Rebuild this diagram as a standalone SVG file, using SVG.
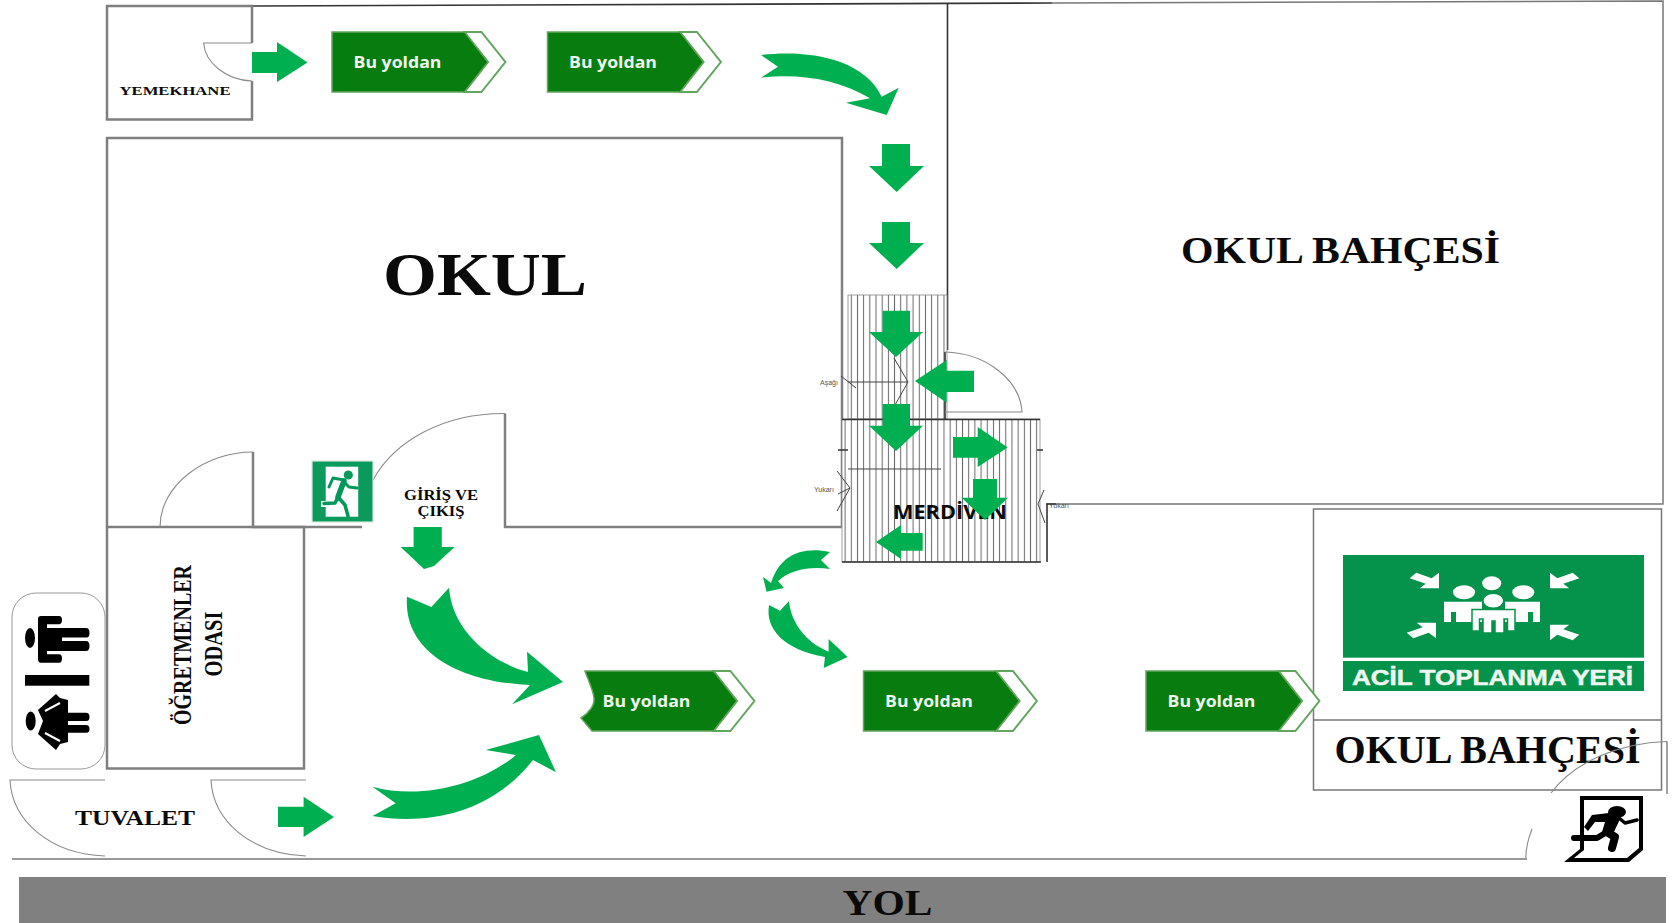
<svg xmlns="http://www.w3.org/2000/svg" xmlns:xlink="http://www.w3.org/1999/xlink" width="1672" height="923" viewBox="0 0 1672 923">
<style>
.wall{fill:none;stroke:#7f7f7f;stroke-width:2.5}
.thin{fill:none;stroke:#777;stroke-width:1.5}
.dark{fill:none;stroke:#333;stroke-width:1.6}
.door{fill:none;stroke:#8a8a8a;stroke-width:1.1}
.stair{fill:url(#steps);stroke:#888;stroke-width:.8}
.ln{fill:none;stroke:#444;stroke-width:1}
.ar{fill:#00b050}
.body{fill:#067d0e;stroke:#63a55e;stroke-width:1.5}
.chev{fill:#fff;stroke:#63a55e;stroke-width:2}
.st{font-family:"Liberation Serif","Times New Roman",serif;font-weight:bold;fill:#0a0a0a}
.sg{font-family:"Open Sans","Liberation Sans",sans-serif;font-weight:700;font-size:16.5px;fill:#f0f6ec}
.tiny{font-family:"Liberation Sans",Arial,sans-serif;font-size:7px;fill:#555}
.w{fill:#fff}
.k{fill:#000}
.rg{fill:none;stroke:#00985a;stroke-linejoin:round;stroke-linecap:round}
.rk{fill:none;stroke:#000;stroke-linejoin:round;stroke-linecap:round}
</style>
<defs>
<pattern id="steps" patternUnits="userSpaceOnUse" x="842" y="0" width="6.18" height="20"><rect width="6.18" height="20" fill="#fff"/><line x1="3.1" y1="0" x2="3.1" y2="20" stroke="#666" stroke-width="1"/></pattern>
<polygon id="corner" class="w" points="30,17.3 10.7,17.3 16.7,12.7 .7,7.3 7.3,1.7 22.7,7.3 30,1.7"/>
<g id="signshape"><polygon class="chev" points="132.5,0 149.4,0 173.4,30 149.4,60 132.5,60 156,30"/><polygon class="body" points="0,0 132.5,0 156,30 132.5,60 0,60"/></g>
</defs>
<rect width="1672" height="923" fill="#fff"/>

<g id="okul-bahcesi-top">
<path class="dark" d="M252,6 L1052,3"/>
<path class="thin" d="M1052,3 L1663,1 V504 H1046"/>
<path class="dark" d="M947.5,3 V350"/>
<text class="st" x="1181" y="263" font-size="38" textLength="319" lengthAdjust="spacingAndGlyphs">OKUL BAHÇESİ</text>
</g>

<g id="yemekhane">
<path class="wall" d="M252,43 V6 H107 V119.5 H252 V81"/>
<path class="door" d="M252,43 H203.6 C205,62 225,80 252,81"/>
<text class="st" x="119.5" y="95" font-size="13.5" textLength="111" lengthAdjust="spacingAndGlyphs">YEMEKHANE</text>
</g>

<g id="okul">
<path class="wall" d="M362,527 H253 V452 M107,526 V138 H842 V527 H505 V413.5"/>
<path class="door" d="M160,527 C160,485 205,452 253,452 M373,480 C395,440 445,413 505,413.5"/>
<path class="thin" d="M107,527 H160"/>
<text class="st" x="383" y="295" font-size="62" textLength="204" lengthAdjust="spacingAndGlyphs">OKUL</text>
<text class="st" x="441" y="500" font-size="15" text-anchor="middle" textLength="74" lengthAdjust="spacingAndGlyphs">GİRİŞ VE</text>
<text class="st" x="441" y="516" font-size="15" text-anchor="middle" textLength="47" lengthAdjust="spacingAndGlyphs">ÇIKIŞ</text>
</g>

<g id="merdiven">
<rect class="stair" x="848" y="295" width="99" height="124"/>
<rect class="stair" x="842" y="419" width="198" height="143"/>
<path class="ln" d="M848,469 H941"/>
<path class="dark" d="M842,419.5 H1040 M842,562 H1041 M1047,562 V504 H1056 M838,450 H848 M1037,450 H1043 M945,352 V419"/>
<path class="door" d="M945,352 C985,353 1020,379 1022,412 H945"/>
<path class="ln" d="M841,376 L856,388 M848,382 H908 M894,358 L908,382 L895,405 M837,471 L850,488 L837,511 M838,494 L850,488 M1044,490 L1038,504 L1045,523"/>
<text class="tiny" x="820" y="385">Aşağı</text>
<text class="tiny" x="814" y="492">Yukarı</text>
<text class="tiny" x="1049" y="508">Yukarı</text>
<text x="893" y="518.5" font-family="'Open Sans','Liberation Sans',sans-serif" font-weight="700" font-size="19" fill="#0a0a0a" textLength="114" lengthAdjust="spacingAndGlyphs">MERDİVEN</text>
</g>

<g id="exit-sign">
<rect x="312" y="461" width="61" height="61" fill="#0a9a5c" stroke="#d8e8dc" stroke-width="1.2"/>
<rect class="w" x="325.7" y="466.7" width="32.5" height="50"/>
<rect class="w" x="321" y="501" width="7" height="6"/>
<circle cx="348.3" cy="475" r="4.6" fill="#0a9a5c"/>
<path class="rg" stroke-width="5.5" d="M344,481 L338,497"/>
<path class="rg" stroke-width="3" d="M344,480 L333,478 L329,487 M344,482 L349,487 L357,488"/>
<path class="rg" stroke-width="3.5" d="M338,497 L345,505 L348,516 M338,497 L335,503 L324,503.5"/>
</g>

<g id="ogretmenler-odasi">
<rect class="wall" x="107" y="527" width="197" height="241.5"/>
<text class="st" transform="translate(191,645) rotate(-90)" font-size="25" text-anchor="middle" textLength="160" lengthAdjust="spacingAndGlyphs">ÖĞRETMENLER</text>
<text class="st" transform="translate(221.5,644) rotate(-90)" font-size="25" text-anchor="middle" textLength="65" lengthAdjust="spacingAndGlyphs">ODASI</text>
</g>

<g id="wc-icon">
<rect x="12" y="593" width="93" height="176" rx="24" fill="#fff" stroke="#999" stroke-width="1"/>
<ellipse class="k" cx="30" cy="638" rx="5" ry="10"/>
<path class="k" d="M41,616 H59 Q62,616 62,620 T59,624.3 H47 V628 H86 Q89.5,628 89.5,633 T86,637.5 H62 V641 H86 Q89.5,641 89.5,646 T86,651 H47 V654.3 H59 Q62,654.3 62,658.5 T59,662.7 H41 Q38,662.7 38,659 V619 Q38,616 41,616 Z"/>
<rect class="k" x="25" y="675" width="64.3" height="10.7"/>
<ellipse class="k" cx="30.7" cy="721" rx="5" ry="9.5"/>
<path class="k" d="M38,710 L56,694 L60,698 L68,700 V712.7 H86 Q89.5,712.7 89.5,717 T86,721 H68 V725 H86 Q89.5,725 89.5,729 T86,732.7 H68 V742 L60,744 L56,750 L38,734 L43,721 Z"/>
<path stroke="#fff" stroke-width="2" fill="none" d="M45,711 L60,703 M45,733 L60,741"/>
</g>

<g id="tuvalet">
<path class="door" stroke="#555" d="M105,780 H10 C12,821 50,854 105,856 M306,780 H211 C213,821 251,854 306,856"/>
<text class="st" x="75" y="825" font-size="22" textLength="120" lengthAdjust="spacingAndGlyphs">TUVALET</text>
</g>

<g id="toplanma-yeri">
<rect class="thin" x="1313.5" y="509" width="348" height="281"/>
<path class="thin" d="M1313.5,720 H1661.5"/>
<rect x="1343" y="555" width="301" height="102.7" fill="#05924a"/>
<rect x="1343" y="661" width="301" height="30" fill="#05924a"/>
<use xlink:href="#corner" href="#corner" transform="translate(1409,571)"/>
<use xlink:href="#corner" href="#corner" transform="translate(1580,571) scale(-1,1)"/>
<use xlink:href="#corner" href="#corner" transform="translate(1406,640) scale(1,-1)"/>
<use xlink:href="#corner" href="#corner" transform="translate(1580,642) scale(-1,-1)"/>
<ellipse class="w" cx="1491.7" cy="583.3" rx="9.5" ry="7"/>
<ellipse class="w" cx="1464" cy="592.3" rx="11" ry="7"/>
<ellipse class="w" cx="1523.3" cy="592.3" rx="11" ry="7"/>
<path class="w" d="M1444,601.7 H1482 V622 H1456 V612 H1451 V622 H1444 Z"/>
<path class="w" d="M1505,601.7 H1540 V622 H1533 V612 H1528 V622 H1505 Z"/>
<ellipse class="w" cx="1493.3" cy="600.7" rx="10.5" ry="7.5" stroke="#05924a" stroke-width="1.5"/>
<path class="w" stroke="#05924a" stroke-width="1.5" d="M1472,609.5 H1515 V631 H1507.5 V619 H1504 V633 H1495 V621 H1492 V633 H1483 V619 H1479.5 V631 H1472 Z"/>
<text x="1352" y="684.5" font-family="'Liberation Sans',Arial,sans-serif" font-weight="700" font-size="21.5" fill="#eef7ef" stroke="#eef7ef" stroke-width=".5" textLength="281" lengthAdjust="spacingAndGlyphs">ACİL TOPLANMA YERİ</text>
<text class="st" x="1334.5" y="763" font-size="41" textLength="306" lengthAdjust="spacingAndGlyphs">OKUL BAHÇESİ</text>
</g>

<g id="cikis-kapisi">
<path class="door" d="M1551,793 C1575,761 1620,743 1667,741.5"/>
<path class="ln" stroke="#666" d="M1667,741.5 V794"/>
<path class="door" d="M1532,829 C1528,839 1526,849 1525.8,858"/>
<g transform="translate(2,0)">
<path class="k" fill-rule="evenodd" d="M1578,796 H1641 V850 L1627,862 H1562 L1578,849 Z M1582,800 V850 L1572,858 H1625 L1637,848 V800 Z"/>
<ellipse class="k" cx="1615" cy="812" rx="9" ry="6"/>
<path class="k" d="M1607,813 L1619,817 L1610,836 L1600,832 L1603,822 L1593,822 L1586,831 L1582,827 L1590,815 Z"/>
<path class="rk" stroke-width="3.5" d="M1617,818 L1623,823 L1635,820"/>
<path class="rk" stroke-width="6" d="M1605,832 L1595,838 L1572,838"/>
<path class="rk" stroke-width="8" d="M1605,832 L1613,837 L1610,848"/>
</g>
</g>

<g id="yol">
<path class="thin" d="M12,859 H1527"/>
<rect x="19" y="877" width="1647" height="46" fill="#808080"/>
<text class="st" x="887.5" y="914.5" font-size="36" text-anchor="middle" textLength="90" lengthAdjust="spacingAndGlyphs">YOL</text>
</g>

<g id="sign-1" transform="translate(332,32)"><use xlink:href="#signshape" href="#signshape"/><text class="sg" x="21.5" y="36" textLength="88" lengthAdjust="spacingAndGlyphs">Bu yoldan</text></g>
<g id="sign-2" transform="translate(547.5,32)"><use xlink:href="#signshape" href="#signshape"/><text class="sg" x="21.5" y="36" textLength="88" lengthAdjust="spacingAndGlyphs">Bu yoldan</text></g>
<g id="sign-3" transform="translate(581,671)"><polygon class="chev" points="132.5,0 149.4,0 173.4,30 149.4,60 132.5,60 156,30"/><path class="body" d="M4,0 H132.5 L156,30 L132.5,60 H11 L0,47 C8,42 14,34 13,27 C12,18 7,9 4,0 Z"/><text class="sg" x="21.5" y="36" textLength="88" lengthAdjust="spacingAndGlyphs">Bu yoldan</text></g>
<g id="sign-4" transform="translate(863.5,671)"><use xlink:href="#signshape" href="#signshape"/><text class="sg" x="21.5" y="36" textLength="88" lengthAdjust="spacingAndGlyphs">Bu yoldan</text></g>
<g id="sign-5" transform="translate(1146,671)"><use xlink:href="#signshape" href="#signshape"/><text class="sg" x="21.5" y="36" textLength="88" lengthAdjust="spacingAndGlyphs">Bu yoldan</text></g>

<g id="connectors">
<polygon class="ar" points="252,52 277,52 277,42 307.5,62.5 277,82 277,73 252,73"/>
<path class="ar" d="M761,55 C800,50 862,55 881.7,96.7 L898.7,87.7 L886.7,115 L846,102.7 L870,98.3 C840,80 800,73 761,77.7 L778,66.7 Z"/>
<polygon class="ar" points="882,144 910,144 910,166 924,166 896.7,192 869,166 882,166"/>
<polygon class="ar" points="882,222 910,222 910,243 924,243 896.7,269 869,243 882,243"/>
<polygon class="ar" points="882.7,310.7 910,310.7 910,332 923,332 896,357 869,332 882.7,332"/>
<polygon class="ar" points="882.7,404 910,404 910,425.7 923,425.7 896,451 869,425.7 882.7,425.7"/>
<polygon class="ar" points="974,370.7 946.7,370.7 946.7,360 915,381 946.7,402.7 946.7,392 974,392"/>
<polygon class="ar" points="953,437 977.7,437 977.7,427 1007.7,447.5 977.7,467 977.7,457.7 953,457.7"/>
<polygon class="ar" points="973,479 997,479 997,497.7 1008,497.7 985,520 961.7,497.7 973,497.7"/>
<polygon class="ar" points="922.7,533 901,533 901,525 876,542 901,559 901,550.7 922.7,550.7"/>
<polygon class="ar" points="413.6,527 441.8,527 441.8,547 454.6,547 434,566 424,569 400.7,547 413.6,547"/>
<polygon class="ar" points="278,806.7 303.6,806.7 303.6,796.7 334,817 303.6,837 303.6,827 278,827"/>
<path class="ar" d="M407,596.7 L431.4,607 L449,587.7 C452,630 490,662 528,672 L527,651.7 L563,682 L512,704.3 L530,685 C460,682 403,652 407,596.7 Z"/>
<path class="ar" d="M372.5,786.7 C420,800 480,785 516,755 L485.7,750 L539,735 L556,772.3 L533,760 C490,815 425,825 372.5,816 L395.7,803.3 Z"/>
<path class="ar" d="M830,552 C800,546 780,556 771,583 L763,576.7 L766.5,591.7 L784,588 L778,581 C790,570 810,566 830,569 L821,560 Z"/>
<path class="ar" d="M769,605 L780,610.7 L789,601 C791,622 805,642 828.6,651.7 L828.6,639 L847.6,657 L823.7,668 L825,657 C785,650 765,630 769,605 Z"/>
</g>
</svg>
